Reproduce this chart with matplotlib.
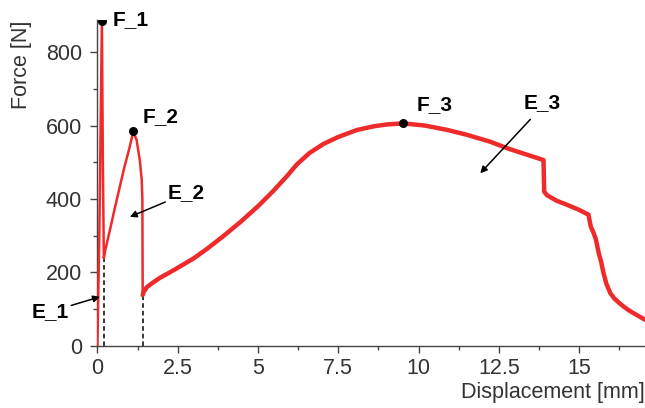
import numpy as np
import matplotlib.pyplot as plt
from matplotlib.ticker import MultipleLocator

plt.rcParams['font.family'] = ['Liberation Sans', 'DejaVu Sans']

# first two fracture events (thin trace)
x_early = [0.0, 0.06, 0.14, 0.17, 0.20, 0.25, 0.39, 0.55, 0.70, 0.85, 1.01, 1.08, 1.12,
           1.22, 1.32, 1.38, 1.40, 1.41]
f_early = [0, 300, 886, 500, 238, 262, 315, 378, 434, 490, 543, 570, 582,
           561, 506, 452, 400, 138]

# main curve after the second drop
x_main = [1.41, 1.45, 1.55, 1.70, 1.95, 2.20, 2.50, 3.00, 3.40, 3.90, 4.44, 5.00, 5.48, 5.90,
          6.21, 6.60, 7.04, 7.50, 8.08, 8.60, 9.00, 9.53, 10.20, 10.90, 11.50, 12.23, 12.80,
          13.40, 13.89, 13.91, 14.00, 14.30, 14.62, 15.00, 15.29, 15.36, 15.45, 15.52,
          15.61, 15.68, 15.76, 15.85, 15.97, 16.10, 16.25, 16.39, 16.55, 16.70, 16.88, 17.06]
f_main = [138, 148, 160, 170, 185, 197, 212, 238, 263, 297, 336, 380, 422, 462,
          494, 525, 550, 569, 588, 598, 603, 606, 600, 588, 575, 556, 537,
          520, 506, 420, 410, 395, 384, 370, 357, 325, 307, 290,
          252, 230, 197, 168, 143, 128, 116, 106, 96, 88, 79, 70]

# marked points and dashed markers
peak_x = [0.14, 1.12, 9.53]
peak_f = [886, 584, 606]
drop_x = [0.20, 1.41]
drop_f = [238, 138]

red = '#ee2a2a'
ink = '#333333'

fig, ax = plt.subplots(figsize=(6.45, 4.08), dpi=100)
fig.subplots_adjust(left=0.151, right=1.0, bottom=0.153, top=0.951)

ax.plot(x_early, f_early, color=red, lw=1.8, zorder=3)
ax.plot(x_main, f_main, color=red, lw=3.2, zorder=3, solid_capstyle='round', solid_joinstyle='round')
ax.scatter(peak_x, peak_f, s=30, color='black', zorder=5)
for xd, fd in zip(drop_x, drop_f):
    ax.plot([xd, xd], [0, fd], color='black', lw=1.1, ls=(0, (3, 2)), zorder=2)

ax.set_xlim(0, 17.05)
ax.set_ylim(0, 888)

for s in ['top', 'right']:
    ax.spines[s].set_visible(False)
for s in ['left', 'bottom']:
    ax.spines[s].set_color('#444444')
    ax.spines[s].set_linewidth(1.0)

ax.xaxis.set_minor_locator(MultipleLocator(1.25))
ax.yaxis.set_major_locator(MultipleLocator(200))
ax.yaxis.set_minor_locator(MultipleLocator(100))
ax.set_xticks([0, 2.5, 5, 7.5, 10, 12.5, 15])
ax.set_xticklabels(['0', '2.5', '5', '7.5', '10', '12.5', '15'])
ax.tick_params(axis='both', which='major', length=5, width=1, color='#444444',
               labelsize=15.5, labelcolor=ink)
ax.tick_params(axis='both', which='minor', length=3, width=1, color='#444444')
ax.tick_params(axis='y', which='major', pad=6)
ax.tick_params(axis='x', which='major', pad=4)

ax.text(-0.138, 0.862, 'Force [N]', transform=ax.transAxes, rotation=90,
        ha='center', va='center', fontsize=15.5, color=ink)
ax.text(1.0, -0.145, 'Displacement [mm]', transform=ax.transAxes,
        ha='right', va='center', fontsize=15.5, color=ink)

lab = dict(fontsize=15, fontweight='bold', color='black', va='center', ha='left')
ax.text(0.48, 888, 'F_1', **lab)
ax.text(1.42, 624, 'F_2', **lab)
ax.text(9.93, 656, 'F_3', **lab)

arrow = dict(arrowstyle='-|>', color='black', lw=1.1, mutation_scale=10, shrinkA=0, shrinkB=0)
ax.annotate('E_1', xy=(0.08, 133), xytext=(-0.9, 92), ha='right', va='center',
            fontsize=15, fontweight='bold', arrowprops=arrow, annotation_clip=False)
ax.annotate('E_2', xy=(1.01, 351), xytext=(2.20, 416), ha='left', va='center',
            fontsize=15, fontweight='bold', arrowprops=arrow)
ax.annotate('', xy=(11.92, 470), xytext=(13.48, 617), arrowprops=arrow)
ax.text(13.27, 662, 'E_3', **lab)

fig.savefig('out.png', dpi=100)
